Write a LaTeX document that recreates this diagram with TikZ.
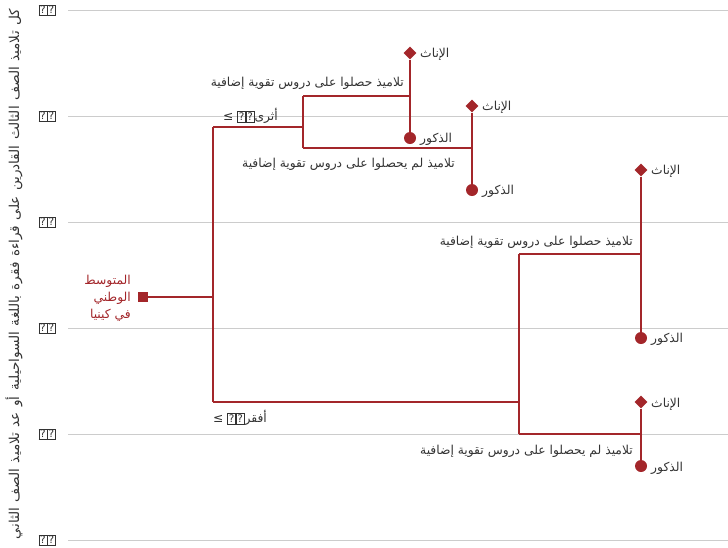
\documentclass[tikz,border=0pt]{standalone}
\usepackage{fontspec}
\TeXXeTstate=1
\newfontfamily\arabicfont[Script=Arabic]{DejaVu Sans}
\newfontfamily\symfont{DejaVu Sans}
\usetikzlibrary{shapes.geometric}
\definecolor{treered}{HTML}{A3262A}
\definecolor{txt}{HTML}{333333}
\definecolor{gridgrey}{HTML}{CCCCCC}
\newcommand\tofu{{\setlength\fboxsep{0.9pt}\setlength\fboxrule{0.6pt}\fbox{\fontsize{10.5}{10.5}\selectfont\symfont ?}}}
\newcommand\ar[1]{\arabicfont\beginR #1\endR}
\tikzset{
  gridline/.style={gridgrey, line width=0.8pt},
  ticklab/.style={anchor=east, inner sep=0pt, text=txt},
  branch/.style={treered, line width=1.1pt},
  lab/.style={inner sep=0pt, text=txt, font=\arabicfont\fontsize{12.3}{14}\selectfont},
  fem/.style={diamond, fill=treered, minimum size=13pt, inner sep=0pt},
  mal/.style={circle, fill=treered, minimum size=12pt, inner sep=0pt},
  rootbox/.style={rectangle, fill=treered, minimum size=10.5pt, inner sep=0pt}
}
\begin{document}
\begin{tikzpicture}[x=1pt,y=-1pt]
\useasboundingbox (0,0) rectangle (728,547);
% grid
\foreach \yy/\nm in {10/g0,116/g1,222/g2,328/g3,434/g4,540/g5}{
  \coordinate (\nm s) at (68,\yy);
  \coordinate (\nm e) at (728,\yy);
  \draw[gridline] (\nm s) -- (\nm e);
  \node[ticklab] (\nm l) at (56,\yy) {\tofu\tofu};
}
% axis title
\node[lab, rotate=90, font=\arabicfont\fontsize{13.6}{15}\selectfont] (axtitle) at (14,274) {\hbox to 530pt{\spaceskip=3pt plus 10pt\beginR كل تلاميذ الصف الثالث القادرين على قراءة فقرة باللغة السواحيلية أو عد تلاميذ الصف الثاني\endR}};
% nodes
\node[rootbox] (root) at (143,297) {};
\node[fem] (f1) at (410,53) {};
\node[mal] (m1) at (410,138) {};
\node[fem] (f2) at (472,106) {};
\node[mal] (m2) at (472,190) {};
\node[fem] (f3) at (641,170) {};
\node[mal] (m3) at (641,338) {};
\node[fem] (f4) at (641,402) {};
\node[mal] (m4) at (641,466) {};
% junctions
\coordinate (r0) at (213,297);
\coordinate (ra) at (213,127);
\coordinate (rb) at (213,402);
\coordinate (ta) at (303,127);
\coordinate (t1) at (303,96);
\coordinate (t2) at (303,148);
\coordinate (j1) at (410,96);
\coordinate (j2) at (472,148);
\coordinate (ba) at (519,402);
\coordinate (b1) at (519,254);
\coordinate (b2) at (519,434);
\coordinate (j3) at (641,254);
\coordinate (j4) at (641,434);
% branches
\draw[branch] (root) -- (r0);
\draw[branch] (ra) -- (rb);
\draw[branch] (ra) -- (ta);
\draw[branch] (t1) -- (t2);
\draw[branch] (t1) -- (j1);
\draw[branch] (t2) -- (j2);
\draw[branch] (f1) -- (m1);
\draw[branch] (f2) -- (m2);
\draw[branch] (rb) -- (ba);
\draw[branch] (b1) -- (b2);
\draw[branch] (b1) -- (j3);
\draw[branch] (b2) -- (j4);
\draw[branch] (f3) -- (m3);
\draw[branch] (f4) -- (m4);
% labels
\node[lab, anchor=west] (lf1) at (420,54) {\ar{الإناث}};
\node[lab, anchor=west] (lm1) at (420,139) {\ar{الذكور}};
\node[lab, anchor=west] (lf2) at (482,107) {\ar{الإناث}};
\node[lab, anchor=west] (lm2) at (482,191) {\ar{الذكور}};
\node[lab, anchor=west] (lf3) at (651,171) {\ar{الإناث}};
\node[lab, anchor=west] (lm3) at (651,339) {\ar{الذكور}};
\node[lab, anchor=west] (lf4) at (651,404) {\ar{الإناث}};
\node[lab, anchor=west] (lm4) at (651,468) {\ar{الذكور}};
\node[lab, anchor=east] (ly1) at (404,83) {\ar{تلاميذ حصلوا على دروس تقوية إضافية}};
\node[lab, anchor=east] (ln1) at (455,164) {\ar{تلاميذ لم يحصلوا على دروس تقوية إضافية}};
\node[lab, anchor=east] (ly2) at (633,242) {\ar{تلاميذ حصلوا على دروس تقوية إضافية}};
\node[lab, anchor=east] (ln2) at (633,451) {\ar{تلاميذ لم يحصلوا على دروس تقوية إضافية}};
\node[lab, anchor=east] (rich) at (278,116) {\arabicfont\beginR أثرى\tofu\tofu\ {\symfont ≤}\endR};
\node[lab, anchor=west] (poor) at (213,418) {\arabicfont\beginR أفقر\tofu\tofu\ {\symfont ≤}\endR};
\node[lab, anchor=east, text=treered, align=right, font=\arabicfont\fontsize{12.3}{17}\selectfont] (rootlab) at (131,298) {\beginR المتوسط\endR\\\beginR الوطني\endR\\\beginR في كينيا\endR};
\end{tikzpicture}
\end{document}
